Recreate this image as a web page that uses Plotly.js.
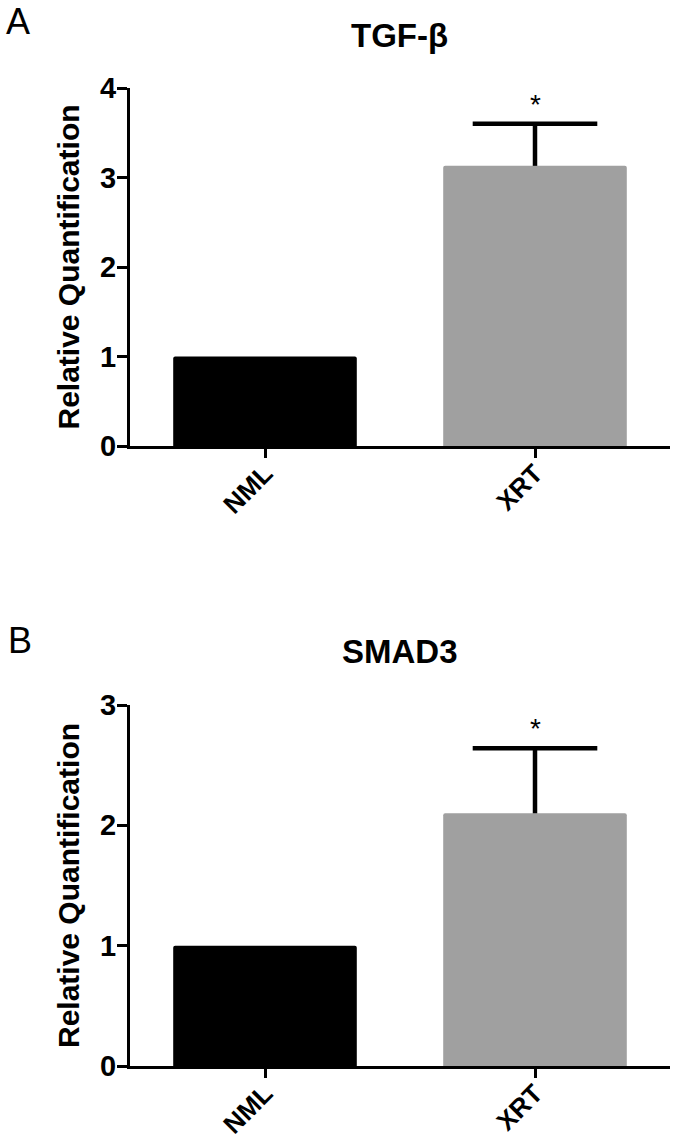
<!DOCTYPE html>
<html>
<head>
<meta charset="utf-8">
<script src="https://cdn.plot.ly/plotly-3.0.1.min.js"></script>
<style>html,body{margin:0;padding:0;background:#fff;}#chart{width:675px;height:1139px;}</style>
</head>
<body>
<div id="chart"></div>
<script>
const categories = ['NML', 'XRT'];
const tgfValues = [1.0, 3.13];
const tgfErrors = [0, 0.47];
const smadValues = [1.0, 2.10];
const smadErrors = [0, 0.54];
const barColors = ['#000000', '#a0a0a0'];
const tgfTicks = [0, 1, 2, 3, 4];
const smadTicks = [0, 1, 2, 3];
const panelTitles = ['TGF-β', 'SMAD3'];
const panelLetters = ['A', 'B'];
const yTitle = 'Relative Quantification';

const FONT = 'Liberation Sans, Arial, sans-serif';

function barTrace(vals, errs, xa, ya) {
  return {
    type: 'bar', x: categories, y: vals, xaxis: xa, yaxis: ya,
    width: 0.68,
    marker: {color: barColors, line: {width: 0}, cornerradius: 2},
    error_y: {type: 'data', array: errs, arrayminus: errs.map(() => 0), symmetric: false,
              color: '#000', thickness: 4.5, width: 0, visible: true},
    hoverinfo: 'skip'
  };
}
// error-bar caps (only where an error exists)
function capTrace(vals, errs, xa, ya) {
  return {
    type: 'scatter', mode: 'markers', x: categories,
    y: vals.map((v, i) => errs[i] > 0 ? v + errs[i] : null),
    xaxis: xa, yaxis: ya,
    marker: {symbol: 'line-ew', size: 89, color: '#000', line: {color: '#000', width: 4.5}},
    hoverinfo: 'skip', cliponaxis: false
  };
}

const data = [
  barTrace(tgfValues, tgfErrors, 'x', 'y'),
  capTrace(tgfValues, tgfErrors, 'x', 'y'),
  barTrace(smadValues, smadErrors, 'x2', 'y2'),
  capTrace(smadValues, smadErrors, 'x2', 'y2')
];

function xAxis(anchor) {
  return {
    domain: [130/675, 670/675], anchor: anchor, type: 'category', range: [-0.5, 1.5],
    showline: true, linewidth: 3, linecolor: '#000', mirror: false,
    ticks: 'outside', ticklen: 9, tickwidth: 3, tickcolor: '#000',
    tickangle: -45, showgrid: false, zeroline: false, ticklabelstandoff: -10,
    tickfont: {family: FONT, size: 26, color: '#000', weight: 'bold'}
  };
}
function yAxis(anchor, domain, range, ticks) {
  return {
    domain: domain, anchor: anchor, range: range, tickvals: ticks,
    showline: true, linewidth: 3, linecolor: '#000',
    ticks: 'outside', ticklen: 10, tickwidth: 3, tickcolor: '#000',
    showgrid: false, zeroline: false, ticklabelstandoff: -5,
    tickfont: {family: FONT, size: 29, color: '#000', weight: 'bold'},
    title: {text: yTitle, standoff: 12, font: {family: FONT, size: 30, color: '#000', weight: 'bold'}}
  };
}

const H = 1139;
const layout = {
  width: 675, height: 1139,
  margin: {l: 0, r: 0, t: 0, b: 0},
  paper_bgcolor: '#fff', plot_bgcolor: '#fff',
  showlegend: false,
  xaxis: xAxis('y'),
  yaxis: yAxis('x', [(H-446)/H, (H-88)/H], [0, 4], tgfTicks),
  xaxis2: xAxis('y2'),
  yaxis2: yAxis('x2', [(H-1066)/H, (H-705)/H], [0, 3], smadTicks),
  annotations: [
    {xref: 'paper', yref: 'paper', x: 399/675, y: (H-36)/H, text: '<b>' + panelTitles[0] + '</b>', showarrow: false,
     xanchor: 'center', yanchor: 'middle', font: {family: FONT, size: 33, color: '#000'}},
    {xref: 'paper', yref: 'paper', x: 400/675, y: (H-652)/H, text: '<b>' + panelTitles[1] + '</b>', showarrow: false,
     xanchor: 'center', yanchor: 'middle', font: {family: FONT, size: 33, color: '#000'}},
    {xref: 'paper', yref: 'paper', x: 4/675, y: (H-22)/H, text: panelLetters[0], showarrow: false,
     xanchor: 'left', yanchor: 'middle', font: {family: FONT, size: 36, color: '#000'}},
    {xref: 'paper', yref: 'paper', x: 6/675, y: (H-640)/H, text: panelLetters[1], showarrow: false,
     xanchor: 'left', yanchor: 'middle', font: {family: FONT, size: 36, color: '#000'}},
    {xref: 'x', yref: 'y', x: categories[1], y: tgfValues[1] + tgfErrors[1], text: '*', showarrow: false,
     xanchor: 'center', yanchor: 'bottom', yshift: 2, font: {family: FONT, size: 28, color: '#000'}},
    {xref: 'x2', yref: 'y2', x: categories[1], y: smadValues[1] + smadErrors[1], text: '*', showarrow: false,
     xanchor: 'center', yanchor: 'bottom', yshift: 2, font: {family: FONT, size: 28, color: '#000'}}
  ]
};

Plotly.newPlot('chart', data, layout, {staticPlot: true, displayModeBar: false});
</script>
</body>
</html>
